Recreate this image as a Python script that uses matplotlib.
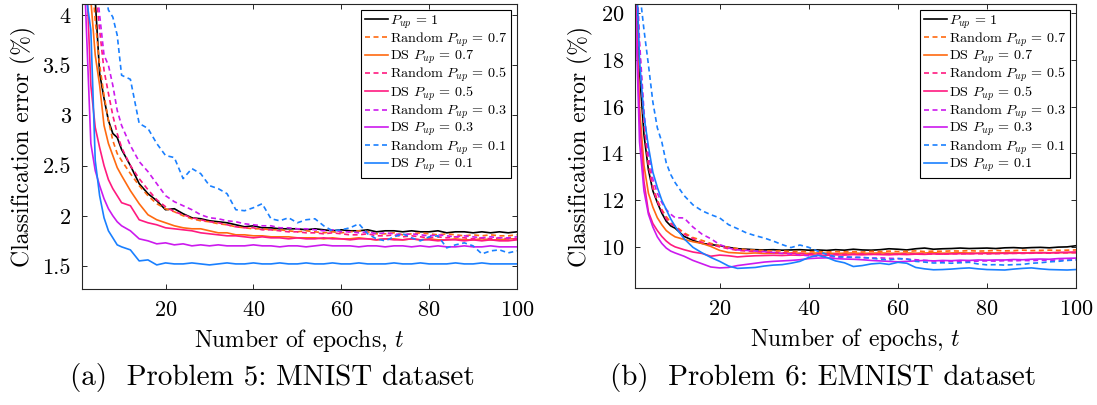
import numpy as np
import matplotlib
matplotlib.use("Agg")
from matplotlib import pyplot as plt

plt.rcParams['font.family'] = 'serif'
plt.rcParams['font.serif'] = ['cmr10']
plt.rcParams['mathtext.fontset'] = 'cm'
plt.rcParams['axes.formatter.use_mathtext'] = True

# epochs where values were read (dense at the start)
epochs = [1, 2, 3, 4, 5, 6, 7, 8, 9, 10] + list(range(12, 101, 2))

labels = [r'$P_{up}\,=\,1$',
          r'Random $P_{up}\,=\,0.7$', r'DS $P_{up}\,=\,0.7$',
          r'Random $P_{up}\,=\,0.5$', r'DS $P_{up}\,=\,0.5$',
          r'Random $P_{up}\,=\,0.3$', r'DS $P_{up}\,=\,0.3$',
          r'Random $P_{up}\,=\,0.1$', r'DS $P_{up}\,=\,0.1$']
colors = ['k', '#ff6a10', '#ff6a10', '#ff1a80', '#ff1a80',
          '#cc1aee', '#cc1aee', '#1a80ff', '#1a80ff']
styles = ['-', '--', '-', '--', '-', '--', '-', '--', '-']

# ---- Problem 5: MNIST ----
mnist_full = [6.5, 5.4, 4.7, 4.15, 3.42, 3.17, 2.95, 2.82, 2.78, 2.66,
              2.5, 2.32, 2.22, 2.15, 2.06, 2.07, 2.02, 1.98, 1.97, 1.95,
              1.94, 1.93, 1.91, 1.89, 1.9, 1.88, 1.88, 1.87, 1.87, 1.87,
              1.86, 1.87, 1.86, 1.85, 1.86, 1.85, 1.85, 1.86, 1.84, 1.85,
              1.85, 1.84, 1.85, 1.84, 1.84, 1.85, 1.83, 1.84, 1.84, 1.83,
              1.84, 1.83, 1.84, 1.83, 1.84]
mnist_rand07 = [6.3, 5.2, 4.5, 3.95, 3.5, 3.2, 2.95, 2.75, 2.62, 2.55,
                2.42, 2.3, 2.2, 2.12, 2.07, 2.04, 2.0, 1.97, 1.95, 1.94,
                1.92, 1.91, 1.89, 1.88, 1.87, 1.87, 1.86, 1.86, 1.85, 1.84,
                1.85, 1.84, 1.83, 1.84, 1.83, 1.84, 1.85, 1.84, 1.82, 1.82,
                1.83, 1.81, 1.82, 1.83, 1.82, 1.81, 1.82, 1.81, 1.8, 1.81,
                1.8, 1.81, 1.8, 1.8, 1.81]
mnist_ds07 = [5.8, 4.8, 4.15, 3.6, 3.3, 2.9, 2.72, 2.6, 2.48, 2.4,
              2.25, 2.12, 2.01, 1.96, 1.93, 1.9, 1.88, 1.87, 1.87, 1.85,
              1.83, 1.83, 1.81, 1.81, 1.8, 1.8, 1.79, 1.79, 1.79, 1.78,
              1.78, 1.78, 1.77, 1.78, 1.77, 1.77, 1.78, 1.77, 1.76, 1.77,
              1.77, 1.76, 1.77, 1.76, 1.77, 1.76, 1.76, 1.77, 1.76, 1.76,
              1.77, 1.76, 1.76, 1.77, 1.77]
mnist_rand05 = [6.3, 5.2, 4.6, 4.3, 3.85, 3.45, 3.22, 3.0, 2.82, 2.68,
                2.5, 2.37, 2.26, 2.16, 2.09, 2.04, 2.01, 1.98, 1.96, 1.94,
                1.93, 1.91, 1.89, 1.88, 1.88, 1.86, 1.86, 1.85, 1.84, 1.84,
                1.83, 1.83, 1.82, 1.83, 1.82, 1.81, 1.81, 1.82, 1.8, 1.8,
                1.81, 1.79, 1.8, 1.79, 1.78, 1.79, 1.78, 1.79, 1.78, 1.77,
                1.78, 1.77, 1.78, 1.77, 1.77]
mnist_ds05 = [5.6, 4.4, 3.3, 2.88, 2.68, 2.5, 2.36, 2.27, 2.2, 2.13,
              2.1, 1.96, 1.93, 1.91, 1.88, 1.87, 1.86, 1.85, 1.83, 1.82,
              1.81, 1.8, 1.8, 1.79, 1.78, 1.79, 1.78, 1.78, 1.77, 1.78,
              1.77, 1.77, 1.78, 1.77, 1.77, 1.76, 1.77, 1.77, 1.76, 1.77,
              1.76, 1.76, 1.77, 1.76, 1.76, 1.75, 1.76, 1.76, 1.75, 1.76,
              1.75, 1.76, 1.75, 1.75, 1.76]
mnist_rand03 = [6.5, 5.5, 4.8, 4.4, 4.0, 3.6, 3.5, 3.3, 3.05, 2.9,
                2.7, 2.54, 2.44, 2.32, 2.2, 2.14, 2.1, 2.06, 2.01, 1.98,
                1.97, 1.95, 1.94, 1.92, 1.91, 1.9, 1.9, 1.88, 1.88, 1.87,
                1.87, 1.86, 1.85, 1.86, 1.84, 1.84, 1.83, 1.84, 1.82, 1.83,
                1.82, 1.81, 1.82, 1.81, 1.8, 1.81, 1.8, 1.79, 1.8, 1.79,
                1.78, 1.79, 1.78, 1.78, 1.79]
mnist_ds03 = [5.0, 3.85, 2.72, 2.45, 2.3, 2.17, 2.07, 2.0, 1.94, 1.9,
              1.85, 1.77, 1.75, 1.72, 1.73, 1.71, 1.72, 1.7, 1.71, 1.7,
              1.71, 1.7, 1.7, 1.7, 1.71, 1.7, 1.7, 1.69, 1.7, 1.7,
              1.69, 1.7, 1.71, 1.7, 1.7, 1.7, 1.69, 1.7, 1.7, 1.69,
              1.7, 1.7, 1.69, 1.7, 1.69, 1.7, 1.69, 1.69, 1.7, 1.69,
              1.69, 1.7, 1.69, 1.69, 1.69]
mnist_rand01 = [7.5, 6.5, 5.6, 5.0, 4.5, 4.3, 4.05, 3.98, 3.8, 3.4,
                3.36, 2.92, 2.87, 2.72, 2.6, 2.58, 2.37, 2.47, 2.42, 2.3,
                2.27, 2.22, 2.06, 2.05, 2.08, 2.12, 1.97, 1.95, 1.98, 1.93,
                1.96, 1.97, 1.9, 1.85, 1.86, 1.88, 1.92, 1.82, 1.77, 1.75,
                1.79, 1.82, 1.78, 1.75, 1.79, 1.8, 1.68, 1.71, 1.73, 1.7,
                1.62, 1.65, 1.66, 1.63, 1.65]
mnist_ds01 = [5.0, 4.17, 3.85, 2.55, 2.2, 1.98, 1.85, 1.78, 1.71, 1.69,
              1.66, 1.55, 1.56, 1.51, 1.53, 1.52, 1.52, 1.53, 1.52, 1.51,
              1.52, 1.53, 1.52, 1.52, 1.53, 1.52, 1.52, 1.53, 1.52, 1.52,
              1.53, 1.52, 1.52, 1.53, 1.52, 1.52, 1.53, 1.52, 1.52, 1.52,
              1.53, 1.52, 1.52, 1.53, 1.52, 1.52, 1.52, 1.53, 1.52, 1.52,
              1.53, 1.52, 1.52, 1.52, 1.52]

# ---- Problem 6: EMNIST ----
emnist_full = [22.5, 17.5, 14.8, 13.3, 12.4, 11.9, 11.45, 11.1, 10.9, 10.8,
               10.45, 10.28, 10.15, 10.1, 10.05, 9.98, 9.92, 9.9, 9.88, 9.87,
               9.88, 9.86, 9.87, 9.88, 9.86, 9.87, 9.85, 9.88, 9.86, 9.9,
               9.87, 9.86, 9.88, 9.92, 9.9, 9.87, 9.92, 9.95, 9.9, 9.92,
               9.93, 9.95, 9.93, 9.94, 9.95, 9.93, 9.96, 9.97, 9.95, 9.97,
               9.98, 9.96, 9.99, 10.0, 10.05]
emnist_rand07 = [23.0, 18.5, 15.5, 13.6, 12.6, 12.0, 11.6, 11.3, 11.05, 10.9,
                 10.6, 10.4, 10.28, 10.15, 10.05, 9.98, 9.93, 9.88, 9.86, 9.84,
                 9.82, 9.83, 9.8, 9.81, 9.79, 9.8, 9.78, 9.8, 9.79, 9.8,
                 9.78, 9.81, 9.8, 9.82, 9.8, 9.81, 9.83, 9.8, 9.82, 9.81,
                 9.83, 9.82, 9.84, 9.82, 9.83, 9.85, 9.83, 9.84, 9.86, 9.84,
                 9.85, 9.86, 9.85, 9.86, 9.87]
emnist_ds07 = [21.5, 16.0, 13.5, 12.3, 11.7, 11.25, 10.95, 10.7, 10.55, 10.43,
               10.32, 10.22, 10.15, 10.02, 9.85, 9.76, 9.74, 9.72, 9.74, 9.72,
               9.73, 9.72, 9.74, 9.73, 9.72, 9.74, 9.73, 9.72, 9.73, 9.74,
               9.72, 9.73, 9.74, 9.73, 9.72, 9.74, 9.73, 9.74, 9.75, 9.73,
               9.74, 9.75, 9.74, 9.73, 9.75, 9.74, 9.75, 9.76, 9.74, 9.75,
               9.76, 9.75, 9.76, 9.75, 9.76]
emnist_rand05 = [23.0, 18.3, 15.3, 13.5, 12.5, 11.95, 11.55, 11.2, 11.0, 10.85,
                 10.55, 10.35, 10.2, 10.1, 10.0, 9.92, 9.85, 9.82, 9.8, 9.78,
                 9.76, 9.75, 9.73, 9.72, 9.7, 9.71, 9.69, 9.7, 9.68, 9.69,
                 9.7, 9.68, 9.69, 9.7, 9.68, 9.7, 9.69, 9.71, 9.7, 9.69,
                 9.71, 9.7, 9.72, 9.71, 9.7, 9.72, 9.71, 9.73, 9.72, 9.73,
                 9.74, 9.73, 9.74, 9.75, 9.75]
emnist_ds05 = [21.5, 15.5, 12.8, 11.5, 11.0, 10.7, 10.45, 10.25, 10.1, 10.0,
               9.88, 9.78, 9.72, 9.6, 9.65, 9.62, 9.57, 9.6, 9.62, 9.63,
               9.64, 9.63, 9.65, 9.64, 9.66, 9.65, 9.64, 9.66, 9.65, 9.67,
               9.66, 9.68, 9.67, 9.66, 9.68, 9.67, 9.69, 9.68, 9.7, 9.69,
               9.7, 9.71, 9.7, 9.72, 9.72, 9.71, 9.73, 9.72, 9.74, 9.73,
               9.75, 9.74, 9.76, 9.77, 9.78]
emnist_rand03 = [23.5, 18.8, 15.8, 14.0, 12.9, 12.3, 11.9, 11.6, 11.4, 11.25,
                 11.24, 10.85, 10.55, 10.35, 10.1, 9.95, 9.87, 9.85, 9.82, 9.8,
                 9.76, 9.72, 9.7, 9.66, 9.62, 9.6, 9.58, 9.57, 9.56, 9.55,
                 9.54, 9.52, 9.53, 9.51, 9.5, 9.48, 9.45, 9.42, 9.4, 9.38,
                 9.39, 9.37, 9.38, 9.39, 9.4, 9.39, 9.41, 9.4, 9.42, 9.41,
                 9.43, 9.42, 9.44, 9.43, 9.45]
emnist_ds03 = [21.0, 14.5, 12.4, 11.4, 10.85, 10.43, 10.15, 9.95, 9.82, 9.74,
               9.6, 9.42, 9.28, 9.14, 9.1, 9.12, 9.2, 9.25, 9.3, 9.35,
               9.38, 9.4, 9.42, 9.45, 9.5, 9.52, 9.53, 9.5, 9.48, 9.47,
               9.45, 9.42, 9.4, 9.38, 9.36, 9.38, 9.4, 9.42, 9.4, 9.42,
               9.41, 9.43, 9.42, 9.44, 9.43, 9.44, 9.44, 9.46, 9.45, 9.47,
               9.48, 9.47, 9.5, 9.51, 9.52]
emnist_rand01 = [23.5, 21.0, 19.3, 17.8, 16.2, 15.1, 14.5, 13.6, 13.1, 12.75,
                 12.2, 11.8, 11.55, 11.38, 11.24, 10.95, 10.78, 10.6, 10.48, 10.38,
                 10.25, 10.1, 9.97, 10.08, 9.98, 9.82, 9.68, 9.58, 9.57, 9.56,
                 9.55, 9.52, 9.47, 9.44, 9.5, 9.48, 9.38, 9.35, 9.31, 9.32,
                 9.3, 9.32, 9.34, 9.27, 9.23, 9.24, 9.22, 9.24, 9.25, 9.3,
                 9.32, 9.36, 9.38, 9.42, 9.44]
emnist_ds01 = [23.5, 18.0, 15.6, 14.3, 13.2, 12.55, 12.0, 11.6, 11.2, 10.88,
               10.35, 9.98, 9.75, 9.55, 9.38, 9.18, 9.08, 9.1, 9.12, 9.18,
               9.22, 9.24, 9.3, 9.38, 9.55, 9.64, 9.55, 9.4, 9.32, 9.16,
               9.2, 9.27, 9.3, 9.25, 9.34, 9.3, 9.12, 9.06, 9.02, 9.03,
               9.05, 9.08, 9.1, 9.06, 9.03, 9.02, 9.01, 9.05, 9.08, 9.1,
               9.06, 9.03, 9.02, 9.01, 9.03]

mnist = [mnist_full, mnist_rand07, mnist_ds07, mnist_rand05, mnist_ds05,
         mnist_rand03, mnist_ds03, mnist_rand01, mnist_ds01]
emnist = [emnist_full, emnist_rand07, emnist_ds07, emnist_rand05, emnist_ds05,
          emnist_rand03, emnist_ds03, emnist_rand01, emnist_ds01]

fig = plt.figure(figsize=(10.97, 4.05), dpi=100)
ax1 = fig.add_axes([0.0748, 0.2864, 0.3965, 0.7037])
ax2 = fig.add_axes([0.5789, 0.2889, 0.402, 0.7012])


def draw(ax, series, ylim, yticks):
    for y, c, ls, lab in zip(series, colors, styles, labels):
        if ls == '--':
            ax.plot(epochs, y, color=c, lw=1.2, label=lab, dashes=(3, 2.1))
        else:
            ax.plot(epochs, y, color=c, lw=1.2, label=lab)
    ax.set_xlim(1, 100)
    ax.set_ylim(*ylim)
    ax.set_xticks([20, 40, 60, 80, 100])
    ax.set_yticks(yticks)
    ax.tick_params(direction='in', top=True, right=True, length=3.5,
                   width=0.7, labelsize=16, pad=8, colors='#262626',
                   labelcolor='k')
    for s in ax.spines.values():
        s.set_color('#262626')
        s.set_linewidth(0.8)
    ax.set_xlabel(r'Number of epochs, $t$', fontsize=17, labelpad=5)
    ax.set_ylabel('Classification error (%)', fontsize=17, labelpad=5)
    leg = ax.legend(loc='upper right', fontsize=10.2, fancybox=False,
                    edgecolor='k', framealpha=1, handlelength=1.65,
                    handletextpad=0.15, labelspacing=0.0, borderpad=0.25,
                    borderaxespad=0.4)
    leg.get_frame().set_linewidth(0.8)


draw(ax1, mnist, (1.27, 4.11), [1.5, 2, 2.5, 3, 3.5, 4])
draw(ax2, emnist, (8.24, 20.4), [10, 12, 14, 16, 18, 20])
ax1.set_yticklabels(['1.5', '2', '2.5', '3', '3.5', '4'])

fig.text(272 / 1097, 1 - 378 / 405, '(a)  Problem 5: MNIST dataset',
         fontsize=21, ha='center', va='center')
fig.text(823 / 1097, 1 - 378 / 405, '(b)  Problem 6: EMNIST dataset',
         fontsize=21, ha='center', va='center')

fig.savefig('out.png', dpi=100)
